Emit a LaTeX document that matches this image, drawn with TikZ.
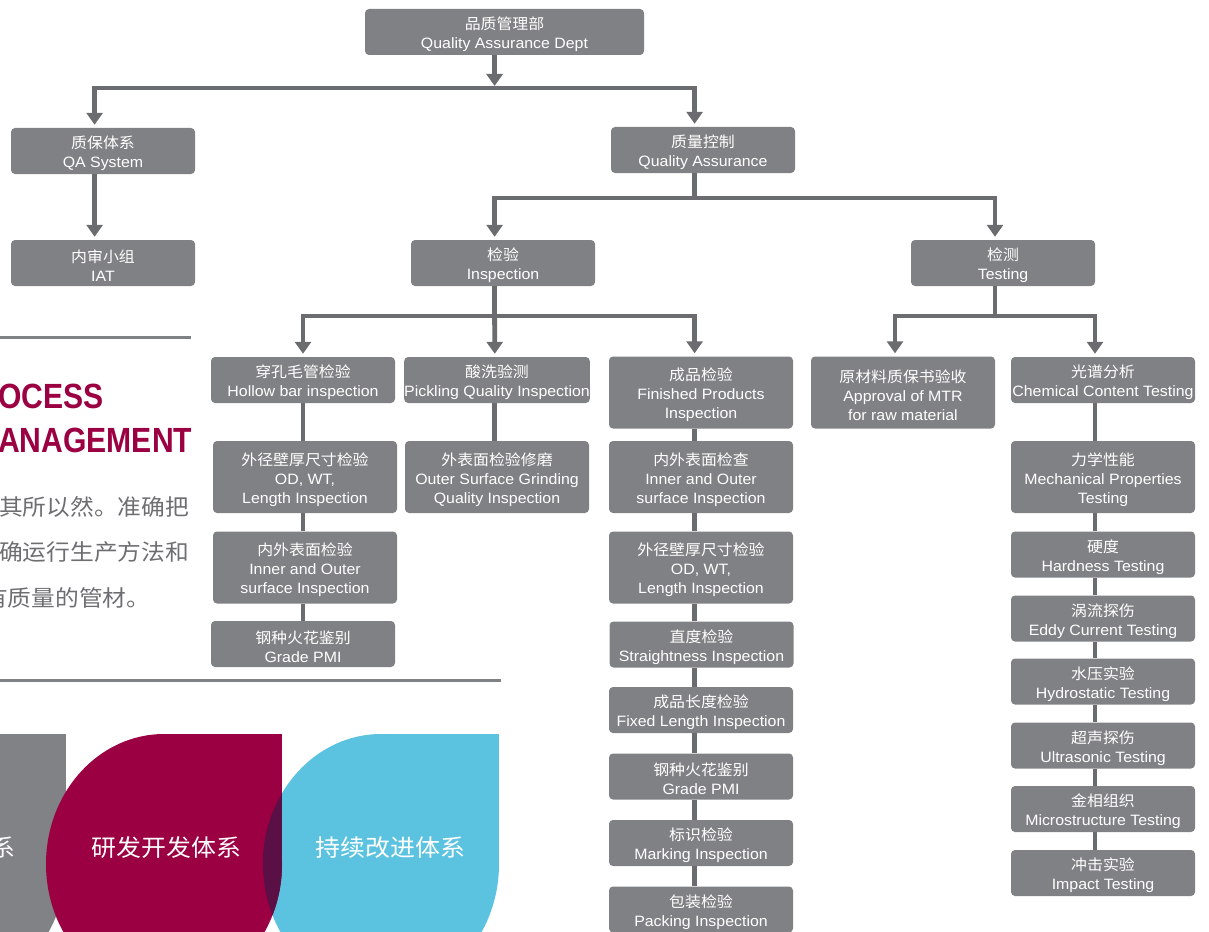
\documentclass[tikz,border=0pt]{standalone}
\usepackage{fontspec}
\setmainfont{Liberation Sans}[FakeStretch=1.06]
\newfontfamily\cjk{Noto Sans CJK SC}[FakeStretch=1.06]
\newfontfamily\titlefont{Liberation Sans}[FakeStretch=0.86]
\usetikzlibrary{arrows.meta}
\definecolor{boxgray}{HTML}{808184}
\definecolor{linegray}{HTML}{6B6C6F}
\definecolor{brandred}{HTML}{9B0042}
\definecolor{brandblue}{HTML}{5BC3E0}
\definecolor{overlapc}{HTML}{5A1044}
\definecolor{bodygray}{HTML}{6D6E71}
\definecolor{shapegray}{HTML}{818286}
\newcommand{\cn}[1]{\rule{0pt}{18pt}{\cjk #1}}
\begin{document}
\begin{tikzpicture}[x=1pt,y=-1pt,
  box/.style={fill=boxgray, rounded corners=4pt, text=white, align=center,
    inner sep=0pt, minimum width=184pt, minimum height=46pt,
    font=\fontsize{15}{19}\selectfont},
  tall/.style={minimum height=72pt},
  conn/.style={draw=linegray, line width=4.8pt},
  arr/.style={conn, -{Triangle[width=16pt,length=12pt]}, shorten >=3pt},
  bigcjk/.style={inner sep=0pt, text=white, font=\fontsize{23.5}{26}\selectfont\cjk},
  bodytxt/.style={inner sep=0pt, anchor=west, text=bodygray, font=\fontsize{22.4}{26}\selectfont\cjk},
  titletxt/.style={inner sep=0pt, anchor=base west, text=brandred, font=\fontsize{35}{40}\selectfont\titlefont\bfseries},
]
\useasboundingbox (0,0) rectangle (1209,931);
\clip (0,0) rectangle (1209,931);

% ---------- bottom-left decorative shapes ----------
\fill[shapegray] (-52,864) ellipse [x radius=118, y radius=130];
\fill[shapegray] (-52,734) rectangle (66,864);
\fill[brandblue] (381,864) ellipse [x radius=118, y radius=130];
\fill[brandblue] (381,734) rectangle (499,864);
\fill[brandred] (164,864) ellipse [x radius=118, y radius=130];
\fill[brandred] (164,734) rectangle (282,864);
\begin{scope}
  \clip (381,864) ellipse [x radius=118, y radius=130];
  \fill[overlapc] (164,864) ellipse [x radius=118, y radius=130];
  \fill[overlapc] (164,734) rectangle (282,864);
\end{scope}
\node[bigcjk, anchor=east] (s1) at (16,848) {系};
\node[bigcjk] (s2) at (166.5,848) {研发开发体系};
\node[bigcjk] (s3) at (390.5,848) {持续改进体系};

% ---------- rules ----------
\draw[boxgray, line width=3pt] (0,337.3) -- (191,337.3);
\draw[boxgray, line width=3pt] (0,680) -- (500.6,680);

% ---------- title and body text ----------
\node[titletxt] (t1) at (-2,408) {OCESS};
\node[titletxt] (t2) at (-2,452.7) {ANAGEMENT};
\node[bodytxt] (p1) at (-1,506.7) {其所以然。准确把};
\node[bodytxt] (p2) at (-1,552) {确运行生产方法和};
\node[bodytxt] (p3) at (-16,597.7) {有质量的管材。};

% ---------- boxes ----------
\node[box, minimum width=279pt] (top) at (504.5,32) {\cn{品质管理部}\\Quality Assurance Dept};
\node[box] (qasys) at (103,151) {\cn{质保体系}\\QA System};
\node[box] (iat) at (103,263) {\cn{内审小组}\\IAT};
\node[box] (qa) at (703,150) {\cn{质量控制}\\Quality Assurance};
\node[box] (insp) at (503,263) {\cn{检验}\\Inspection};
\node[box] (test) at (1003,263) {\cn{检测}\\Testing};

\node[box] (hollow) at (303,380) {\cn{穿孔毛管检验}\\Hollow bar inspection};
\node[box] (pick) at (497,380) {\cn{酸洗验测}\\Pickling Quality Inspection};
\node[box, tall] (fin) at (701,392.5) {\cn{成品检验}\\Finished Products\\Inspection};
\node[box, tall] (mtr) at (903,392.5) {\cn{原材料质保书验收}\\Approval of MTR\\for raw material};
\node[box] (chem) at (1103,380) {\cn{光谱分析}\\Chemical Content Testing};

\node[box, tall] (odL) at (305,477) {\cn{外径壁厚尺寸检验}\\OD, WT,\\Length Inspection};
\node[box, tall] (ioL) at (305,567.5) {\cn{内外表面检验}\\Inner and Outer\\surface Inspection};
\node[box] (pmiL) at (303,644) {\cn{钢种火花鉴别}\\Grade PMI};

\node[box, tall] (outer) at (497,477) {\cn{外表面检验修磨}\\Outer Surface Grinding\\Quality Inspection};

\node[box, tall] (ioF) at (701,477) {\cn{内外表面检查}\\Inner and Outer\\surface Inspection};
\node[box, tall] (odF) at (701,567.5) {\cn{外径壁厚尺寸检验}\\OD, WT,\\Length Inspection};
\node[box] (str) at (701.5,644.5) {\cn{直度检验}\\Straightness Inspection};
\node[box] (fix) at (701,710) {\cn{成品长度检验}\\Fixed Length Inspection};
\node[box] (pmiF) at (701,776.5) {\cn{钢种火花鉴别}\\Grade PMI};
\node[box] (mark) at (701,843) {\cn{标识检验}\\Marking Inspection};
\node[box] (pack) at (701,909.5) {\cn{包装检验}\\Packing Inspection};

\node[box, tall] (mech) at (1103,477) {\cn{力学性能}\\Mechanical Properties\\Testing};
\node[box] (hard) at (1103,554.5) {\cn{硬度}\\Hardness Testing};
\node[box] (eddy) at (1103,618.5) {\cn{涡流探伤}\\Eddy Current Testing};
\node[box] (hydro) at (1103,681.5) {\cn{水压实验}\\Hydrostatic Testing};
\node[box] (ultra) at (1103,745.5) {\cn{超声探伤}\\Ultrasonic Testing};
\node[box] (micro) at (1103,809) {\cn{金相组织}\\Microstructure Testing};
\node[box] (impact) at (1103,873) {\cn{冲击实验}\\Impact Testing};

% ---------- connector coordinates ----------
\coordinate (b1) at (494.6,88);
\coordinate (xL) at (94.6,0);
\coordinate (xQA) at (694.6,0);
\coordinate (b2) at (694.6,198);
\coordinate (xI) at (494.6,0);
\coordinate (xT) at (995,0);
\coordinate (b3) at (494.6,316);
\coordinate (b4) at (995,316);
\coordinate (xH) at (303,0);
\coordinate (xP) at (494.8,0);
\coordinate (xF) at (694.6,0);
\coordinate (xM) at (895,0);
\coordinate (xC) at (1095,0);

% ---------- connectors ----------
\draw[arr, shorten >=2pt] (top.south -| b1) -- (b1);
\draw[arr] (b1) -| (qasys.north -| xL);
\draw[arr] (b1) -| (qa.north -| xQA);
\draw[arr] (qasys.south -| xL) -- (iat.north -| xL);

\draw[conn] (qa.south -| b2) -- (b2);
\draw[arr] (b2) -| (insp.north -| xI);
\draw[arr] (b2) -| (test.north -| xT);

\draw[conn] (insp.south -| b3) -- (b3);
\draw[arr] (b3) -| (hollow.north -| xH);
\draw[arr] (b3) -- (pick.north -| xP);
\draw[arr] (b3) -| (fin.north -| xF);

\draw[conn] (test.south -| b4) -- (b4);
\draw[arr] (b4) -| (mtr.north -| xM);
\draw[arr] (b4) -| (chem.north -| xC);

\draw[conn] (hollow.south -| xH) -- (odL.north -| xH);
\draw[conn] (odL.south -| xH) -- (ioL.north -| xH);
\draw[conn] (ioL.south -| xH) -- (pmiL.north -| xH);

\draw[conn] (pick.south -| xP) -- (outer.north -| xP);

\draw[conn] (fin.south -| xF) -- (ioF.north -| xF);
\draw[conn] (ioF.south -| xF) -- (odF.north -| xF);
\draw[conn] (odF.south -| xF) -- (str.north -| xF);
\draw[conn] (str.south -| xF) -- (fix.north -| xF);
\draw[conn] (fix.south -| xF) -- (pmiF.north -| xF);
\draw[conn] (pmiF.south -| xF) -- (mark.north -| xF);
\draw[conn] (mark.south -| xF) -- (pack.north -| xF);

\draw[conn] (chem.south -| xC) -- (mech.north -| xC);
\draw[conn] (mech.south -| xC) -- (hard.north -| xC);
\draw[conn] (hard.south -| xC) -- (eddy.north -| xC);
\draw[conn] (eddy.south -| xC) -- (hydro.north -| xC);
\draw[conn] (hydro.south -| xC) -- (ultra.north -| xC);
\draw[conn] (ultra.south -| xC) -- (micro.north -| xC);
\draw[conn] (micro.south -| xC) -- (impact.north -| xC);
\end{tikzpicture}
\end{document}
